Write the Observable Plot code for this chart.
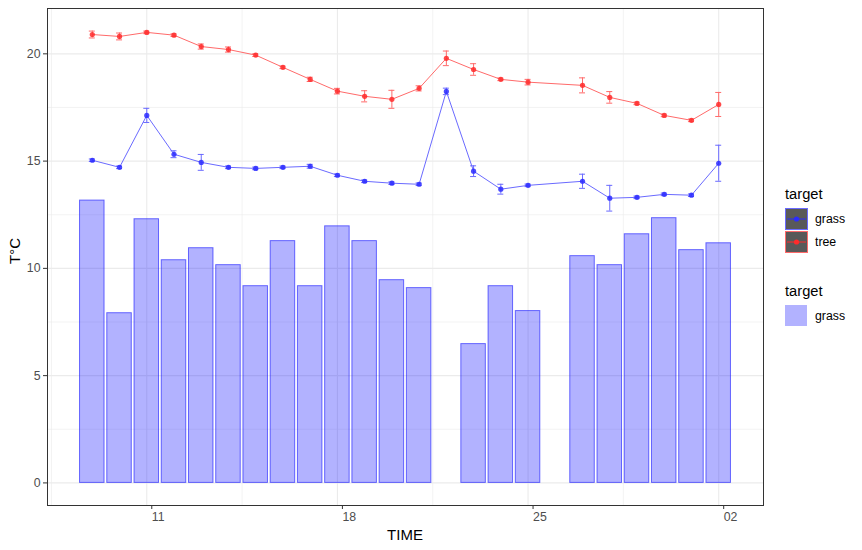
<!DOCTYPE html>
<html>
<head>
<meta charset="utf-8">
<script src="https://cdn.jsdelivr.net/npm/d3@7"></script>
<script src="https://cdn.jsdelivr.net/npm/@observablehq/plot@0.6"></script>
<style>
  body { margin: 0; background: #fff; font-family: "Liberation Sans", Arial, sans-serif; }
  #wrap { position: relative; width: 862px; height: 550px; }
  #wrap svg.plot text { font-family: "Liberation Sans", Arial, sans-serif; }
  g[aria-label="x-axis tick label"], g[aria-label="y-axis tick label"] { fill: #4d4d4d; }
  g[aria-label="x-axis tick"], g[aria-label="y-axis tick"] { stroke: #333333; }
  .ttl { position: absolute; font-size: 15px; color: #000; white-space: nowrap; }
  #legend { position: absolute; left: 780px; top: 182px; }
</style>
</head>
<body>
<div id="wrap"></div>
<script>
// ---- data ----
const lineDates = [
  "2020-09-09","2020-09-10","2020-09-11","2020-09-12","2020-09-13","2020-09-14",
  "2020-09-15","2020-09-16","2020-09-17","2020-09-18","2020-09-19","2020-09-20",
  "2020-09-21","2020-09-22","2020-09-23","2020-09-24","2020-09-25","2020-09-27",
  "2020-09-28","2020-09-29","2020-09-30","2020-10-01","2020-10-02"
];
const treeMean  = [20.90,20.81,21.00,20.87,20.34,20.20,19.94,19.37,18.81,18.26,18.02,17.88,
                   18.39,19.79,19.27,18.81,18.68,18.53,17.97,17.69,17.13,16.90,17.64];
const treeErr   = [0.16,0.16,0.06,0.06,0.12,0.12,0.06,0.06,0.10,0.13,0.26,0.42,
                   0.12,0.34,0.27,0.06,0.13,0.35,0.27,0.06,0.06,0.06,0.56];
const grassMean = [15.04,14.71,17.13,15.32,14.94,14.71,14.66,14.71,14.76,14.34,14.06,13.97,
                   13.92,18.25,14.53,13.69,13.87,14.06,13.27,13.31,13.45,13.41,14.90];
const grassErr  = [0.06,0.06,0.33,0.16,0.37,0.06,0.06,0.06,0.09,0.06,0.06,0.06,
                   0.06,0.15,0.25,0.23,0.06,0.33,0.60,0.06,0.06,0.06,0.84];

const barDates = [
  "2020-09-09","2020-09-10","2020-09-11","2020-09-12","2020-09-13","2020-09-14",
  "2020-09-15","2020-09-16","2020-09-17","2020-09-18","2020-09-19","2020-09-20",
  "2020-09-21","2020-09-23","2020-09-24","2020-09-25","2020-09-27","2020-09-28",
  "2020-09-29","2020-09-30","2020-10-01","2020-10-02"
];
const barGrass = [13.16,7.91,12.29,10.38,10.94,10.15,9.17,11.27,9.17,11.96,11.27,9.45,
                  9.08,6.47,9.17,8.01,10.57,10.15,11.59,12.34,10.85,11.17];

const xTickDates = ["2020-09-11","2020-09-18","2020-09-25","2020-10-02"];
const yTicks = [0, 5, 10, 15, 20];

// ---- build ----
const parse = d3.utcParse("%Y-%m-%d");
const DAY = 864e5;
const series = [
  {name: "grass", mean: grassMean, err: grassErr, line: "#6a6aff", dot: "#2b2bff"},
  {name: "tree",  mean: treeMean,  err: treeErr,  line: "#ff6a6a", dot: "#ff2b2b"}
];
const seriesData = series.map(s => lineDates.map((d, i) => ({
  date: parse(d), mean: s.mean[i], lo: s.mean[i] - s.err[i], hi: s.mean[i] + s.err[i]
})));
const bars = barDates.map((d, i) => ({date: parse(d), value: barGrass[i]}));

const barHalf = 0.45 * DAY;
const capHalf = 0.11 * DAY;
const xMin = d3.min(bars, b => +b.date) - barHalf;
const xMax = d3.max(bars, b => +b.date) + barHalf;
const xPad = 0.05 * (xMax - xMin);
const yMax = d3.max(seriesData.flat(), p => p.hi);
const yPad = 0.05 * yMax;
const xDomain = [new Date(xMin - xPad), new Date(xMax + xPad)];
const yDomain = [0 - yPad, yMax + yPad];

const xTicks = xTickDates.map(parse);
const xStep = xTicks[1] - xTicks[0];
const xMinor = [xTicks[0] - xStep / 2, ...xTicks.map(t => +t + xStep / 2)]
  .map(t => new Date(t)).filter(t => t >= xDomain[0] && t <= xDomain[1]);
const yMinor = [-2.5, ...yTicks.map(t => t + 2.5)].filter(t => t >= yDomain[0] && t <= yDomain[1]);

const gridColor = "#ebebeb";
const marks = [
  Plot.gridY(yMinor, {stroke: gridColor, strokeOpacity: 1, strokeWidth: 0.6}),
  Plot.gridX(xMinor, {stroke: gridColor, strokeOpacity: 1, strokeWidth: 0.6}),
  Plot.gridY(yTicks, {stroke: gridColor, strokeOpacity: 1, strokeWidth: 1.1}),
  Plot.gridX(xTicks, {stroke: gridColor, strokeOpacity: 1, strokeWidth: 1.1}),
  Plot.rect(bars, {
    x1: d => new Date(+d.date - barHalf), x2: d => new Date(+d.date + barHalf),
    y1: 0, y2: "value",
    fill: "#0000ff", fillOpacity: 0.3, stroke: "#0000ff", strokeOpacity: 0.55, strokeWidth: 1
  })
];
series.forEach((s, k) => {
  const data = seriesData[k];
  marks.push(
    Plot.line(data, {x: "date", y: "mean", stroke: s.line, strokeWidth: 1}),
    Plot.ruleX(data, {x: "date", y1: "lo", y2: "hi", stroke: s.line, strokeWidth: 1}),
    Plot.ruleY(data, {y: "hi", x1: d => new Date(+d.date - capHalf), x2: d => new Date(+d.date + capHalf), stroke: s.line, strokeWidth: 1}),
    Plot.ruleY(data, {y: "lo", x1: d => new Date(+d.date - capHalf), x2: d => new Date(+d.date + capHalf), stroke: s.line, strokeWidth: 1}),
    Plot.dot(data, {x: "date", y: "mean", r: 2.6, fill: s.dot, fillOpacity: 0.85, stroke: "none"})
  );
});
marks.push(
  Plot.frame({stroke: "#333333", strokeWidth: 1}),
  Plot.axisX({ticks: xTicks, tickFormat: d3.utcFormat("%d"), tickSize: 4, tickPadding: 3,
              textAnchor: "start", dx: 5, fontSize: 12.3, label: null}),
  Plot.axisY({ticks: yTicks, tickSize: 4, tickPadding: 3, fontSize: 12.3, label: null})
);

const chart = Plot.plot({
  width: 862, height: 550,
  marginLeft: 47, marginRight: 99, marginTop: 8, marginBottom: 45,
  x: {type: "utc", domain: xDomain},
  y: {domain: yDomain},
  style: {fontFamily: "Liberation Sans, Arial, sans-serif", background: "#fff", overflow: "visible"},
  marks
});
const wrap = document.getElementById("wrap");
wrap.appendChild(chart);

// axis titles
const xt = document.createElement("div");
xt.className = "ttl"; xt.textContent = "TIME";
xt.style.left = "405px"; xt.style.top = "526px"; xt.style.transform = "translateX(-50%)";
wrap.appendChild(xt);
const yt = document.createElement("div");
yt.className = "ttl"; yt.textContent = "T°C";
yt.style.left = "14px"; yt.style.top = "251px";
yt.style.transform = "translate(-50%,-50%) rotate(-90deg)";
wrap.appendChild(yt);

// legend
const lg = document.createElement("div");
lg.id = "legend";
const keyLine = (s) => `
  <rect x="5.5" y="0.5" width="22" height="21" fill="#595959" stroke="${s.line}" stroke-width="1"/>
  <line x1="7" x2="26" y1="11" y2="11" stroke="${s.dot}" stroke-width="1"/>
  <circle cx="16.5" cy="11" r="2.6" fill="${s.dot}"/>`;
lg.innerHTML = `
<svg width="82" height="150" style="overflow:visible;font-family:'Liberation Sans',Arial,sans-serif">
  <text x="5" y="17" font-size="14.7" fill="#000">target</text>
  <g transform="translate(0,26)">${keyLine(series[0])}
    <text x="35" y="15" font-size="12.3" fill="#000">grass</text></g>
  <g transform="translate(0,49)">${keyLine(series[1])}
    <text x="35" y="15" font-size="12.3" fill="#000">tree</text></g>
  <text x="5" y="114" font-size="14.7" fill="#000">target</text>
  <g transform="translate(0,123)">
    <rect x="5" y="0" width="22" height="21" fill="#0000ff" fill-opacity="0.3"/>
    <text x="35" y="15" font-size="12.3" fill="#000">grass</text></g>
</svg>`;
wrap.appendChild(lg);
</script>
</body>
</html>
